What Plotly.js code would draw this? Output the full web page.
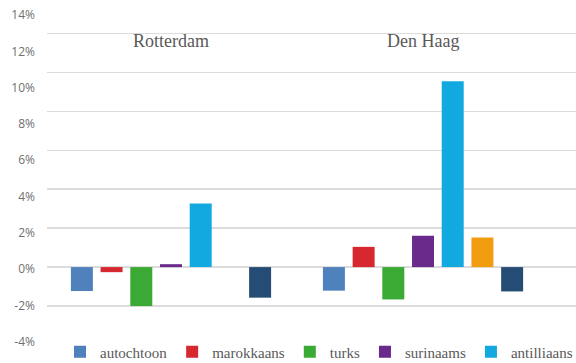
<!DOCTYPE html>
<html>
<head>
<meta charset="utf-8">
<script src="https://cdn.plot.ly/plotly-3.0.1.min.js"></script>
<style>html,body{margin:0;padding:0;background:#fff;}#chart{width:576px;height:363px;}</style>
</head>
<body>
<div id="chart"></div>
<script>
const cities = ["Rotterdam", "Den Haag"];
const seriesNames = ["autochtoon", "marokkaans", "turks", "surinaams", "antilliaans", "overig niet-westers", "westers"];
const autochtoon = [-1.23, -1.21];
const marokkaans = [-0.26, 1.04];
const turks = [-2.0, -1.66];
const surinaams = [0.15, 1.61];
const antilliaans = [3.27, 9.55];
const overigNietWesters = [null, 1.52];
const westers = [-1.57, -1.25];
const tickValues = [-4, -2, 0, 2, 4, 6, 8, 10, 12, 14];
const tickLabels = ["-4%", "-2%", "0%", "2%", "4%", "6%", "8%", "10%", "12%", "14%"];

const seriesValues = [autochtoon, marokkaans, turks, surinaams, antilliaans, overigNietWesters, westers];
const colors = ["#4f81bd", "#d7282f", "#3aaa35", "#6a2a8c", "#12a9e0", "#f29c0f", "#254c74"];
const inLegend = [true, true, true, true, true, false, false];

const traces = seriesNames.map((name, i) => ({
  type: "bar",
  name: name,
  x: cities,
  y: seriesValues[i],
  marker: { color: colors[i] },
  showlegend: inLegend[i],
  hoverinfo: "skip"
}));
// empty helper trace so that the label axis (y2) is drawn
traces.push({ type: "scatter", mode: "markers", x: [], y: [], yaxis: "y2", showlegend: false, hoverinfo: "skip" });

const layout = {
  width: 576,
  height: 363,
  margin: { l: 47, r: 0, t: 13.5, b: 19, autoexpand: false },
  paper_bgcolor: "#ffffff",
  plot_bgcolor: "#ffffff",
  barmode: "group",
  bargap: 0.175,
  bargroupgap: 0.26,
  showlegend: true,
  legend: {
    orientation: "h",
    x: 0.0246,
    xanchor: "left",
    y: -0.024,
    yanchor: "middle",
    font: { family: "Liberation Serif, DejaVu Serif, serif", size: 15, color: "#595959" },
    traceorder: "normal",
    bgcolor: "rgba(0,0,0,0)"
  },
  xaxis: {
    type: "category",
    range: [-0.492, 1.607],
    showticklabels: false,
    showgrid: false,
    zeroline: false,
    showline: false,
    ticks: ""
  },
  yaxis: {
    range: [-3.95, 13],
    dtick: 2,
    tick0: 0,
    showticklabels: false,
    showgrid: true,
    gridcolor: "#dcdcdc",
    gridwidth: 1.5,
    zeroline: false,
    showline: false,
    ticks: ""
  },
  yaxis2: {
    overlaying: "y",
    side: "left",
    range: [-4.13, 14.06],
    tickmode: "array",
    tickvals: tickValues,
    ticktext: tickLabels,
    showgrid: false,
    zeroline: false,
    showline: false,
    ticks: "",
    ticklabelstandoff: 11,
    tickfont: { family: "Open Sans, Noto Sans, sans-serif", size: 12, color: "#707070" }
  },
  annotations: cities.map(c => ({
    x: c,
    y: 11.6,
    xref: "x",
    yref: "y",
    text: c,
    showarrow: false,
    xanchor: "center",
    yanchor: "middle",
    font: { family: "Liberation Serif, DejaVu Serif, serif", size: 18, color: "#595959" }
  }))
};

Plotly.newPlot("chart", traces, layout, { staticPlot: true, displayModeBar: false });
</script>
</body>
</html>
